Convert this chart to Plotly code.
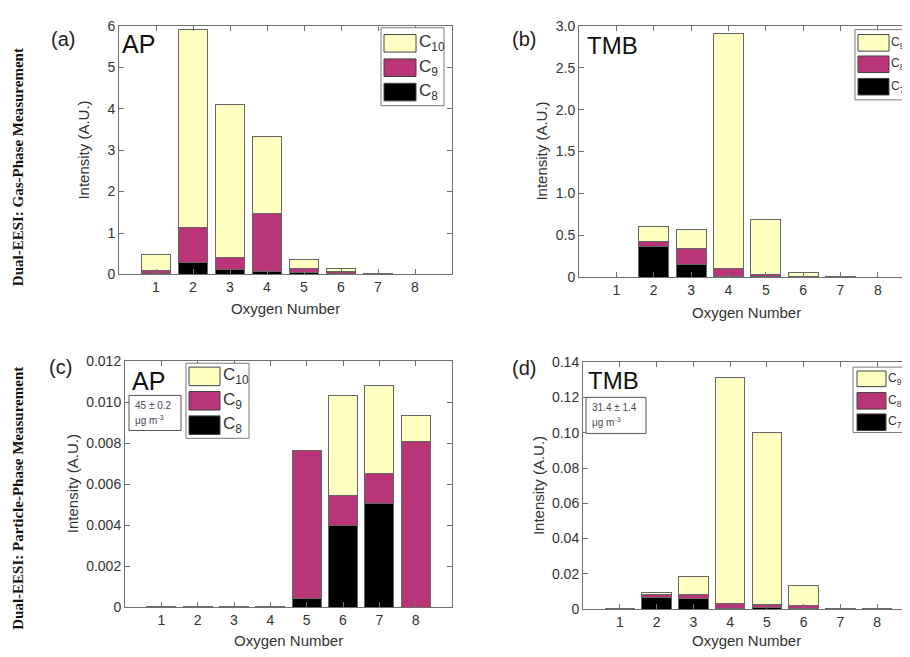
import plotly.graph_objects as go

# The page body has an 8px margin, so the figure is laid out in reference pixels shifted by OFF.
OFF = 8
W, H = 910 - OFF, 657 - OFF

oxygen = [1, 2, 3, 4, 5, 6, 7, 8]

# (a) AP gas phase
ap_gas_c8 = [0.02, 0.28, 0.13, 0.06, 0.05, 0.03, 0.02, 0.005]
ap_gas_c9 = [0.07, 0.85, 0.27, 1.40, 0.10, 0.03, 0.005, 0.003]
ap_gas_c10 = [0.38, 4.78, 3.69, 1.88, 0.21, 0.08, 0.005, 0.002]

# (b) TMB gas phase
tmb_gas_c7 = [0.002, 0.37, 0.155, 0.005, 0.015, 0.005, 0.003, 0.002]
tmb_gas_c8 = [0.001, 0.06, 0.195, 0.105, 0.025, 0.005, 0.001, 0.001]
tmb_gas_c9 = [0.001, 0.18, 0.22, 2.80, 0.65, 0.05, 0.001, 0.0]

# (c) AP particle phase
ap_part_c8 = [0.00001, 0.00001, 0.00001, 0.00001, 0.00043, 0.0040, 0.00507, 0.0]
ap_part_c9 = [0.00001, 0.00001, 0.00001, 0.00001, 0.0072, 0.00145, 0.00143, 0.00807]
ap_part_c10 = [0.0, 0.0, 0.0, 0.0, 0.0, 0.00489, 0.00431, 0.00128]

# (d) TMB particle phase
tmb_part_c7 = [0.0001, 0.0065, 0.0061, 0.0005, 0.0008, 0.0004, 0.0002, 0.0001]
tmb_part_c8 = [0.0001, 0.0018, 0.0024, 0.0028, 0.0020, 0.0014, 0.0001, 0.0001]
tmb_part_c9 = [0.0, 0.0009, 0.0099, 0.1283, 0.0972, 0.0113, 0.0001, 0.0]

yt_a = [0, 1, 2, 3, 4, 5, 6]
yt_a_txt = ["0", "1", "2", "3", "4", "5", "6"]
yt_b = [0, 0.5, 1.0, 1.5, 2.0, 2.5, 3.0]
yt_b_txt = ["0", "0.5", "1.0", "1.5", "2.0", "2.5", "3.0"]
yt_c = [0, 0.002, 0.004, 0.006, 0.008, 0.010, 0.012]
yt_c_txt = ["0", "0.002", "0.004", "0.006", "0.008", "0.010", "0.012"]
yt_d = [0, 0.02, 0.04, 0.06, 0.08, 0.10, 0.12, 0.14]
yt_d_txt = ["0", "0.02", "0.04", "0.06", "0.08", "0.10", "0.12", "0.14"]

YELLOW = "#FFFFC2"
MAGENTA = "#BA3478"
BLACK = "#000000"
EDGE = "#666666"
AXC = "#707070"
TXT = "#333333"
FONT = "Liberation Sans, Arial, sans-serif"

def px(x):
    return (x - OFF) / W

def py(y):
    return 1 - (y - OFF) / H

fig = go.Figure()

panels = [
    dict(n="", series=[(ap_gas_c8, BLACK, "C8"), (ap_gas_c9, MAGENTA, "C9"), (ap_gas_c10, YELLOW, "C10")],
         xd=(119, 452), yd=(273, 18), xr=[0, 9], yr=[0, 6], yt=yt_a, ytt=yt_a_txt, full=True),
    dict(n="2", series=[(tmb_gas_c7, BLACK, "C7"), (tmb_gas_c8, MAGENTA, "C8"), (tmb_gas_c9, YELLOW, "C9")],
         xd=(579, 910), yd=(276, 18), xr=[0, 8.86], yr=[0, 3], yt=yt_b, ytt=yt_b_txt, full=False),
    dict(n="3", series=[(ap_part_c8, BLACK, "C8"), (ap_part_c9, MAGENTA, "C9"), (ap_part_c10, YELLOW, "C10")],
         xd=(125, 452), yd=(614, 362), xr=[0, 9], yr=[0, 0.012], yt=yt_c, ytt=yt_c_txt, full=True),
    dict(n="4", series=[(tmb_part_c7, BLACK, "C7"), (tmb_part_c8, MAGENTA, "C8"), (tmb_part_c9, YELLOW, "C9")],
         xd=(583, 910), yd=(616, 363), xr=[0, 8.89], yr=[0, 0.14], yt=yt_d, ytt=yt_d_txt, full=False),
]

layout = dict(
    width=W, height=H, margin=dict(l=0, r=0, t=0, b=0),
    paper_bgcolor="white", plot_bgcolor="white",
    barmode="stack", showlegend=False,
    font=dict(family=FONT, size=14, color=TXT),
)

for p in panels:
    n = p["n"]
    for vals, col, name in p["series"]:
        fig.add_trace(go.Bar(
            x=oxygen, y=vals, name=name, width=0.8,
            marker=dict(color=col, line=dict(color=EDGE, width=1)),
            xaxis="x" + n, yaxis="y" + n,
        ))
    layout["xaxis" + n] = dict(
        domain=[px(p["xd"][0]), min(1.0, px(p["xd"][1]))], range=p["xr"], anchor="y" + n,
        tickvals=oxygen, ticks="inside", ticklen=5, tickcolor=AXC,
        showline=True, linecolor=AXC, linewidth=1, mirror="allticks",
        showgrid=False, zeroline=False, tickfont=dict(size=14, color=TXT),
    )
    layout["yaxis" + n] = dict(
        domain=[py(p["yd"][0]), py(p["yd"][1])], range=p["yr"], anchor="x" + n,
        tickvals=p["yt"], ticktext=p["ytt"], ticks="inside", ticklen=5, tickcolor=AXC,
        showline=True, linecolor=AXC, linewidth=1,
        mirror="allticks" if p["full"] else False,
        showgrid=False, zeroline=False, tickfont=dict(size=14, color=TXT),
    )

fig.update_layout(**layout)

ann = []
shapes = []

def text(x, y, t, size, angle=0, color=TXT, family=FONT, xanchor="center", yanchor="middle", align="center"):
    ann.append(dict(x=px(x), y=py(y), xref="paper", yref="paper", text=t, showarrow=False,
                    font=dict(size=size, color=color, family=family), textangle=angle,
                    xanchor=xanchor, yanchor=yanchor, align=align, borderpad=0))

# panel letters
text(63, 32, "(a)", 20, color="#222")
text(524, 32, "(b)", 20, color="#222")
text(60, 368, "(c)", 20, color="#222")
text(524, 369, "(d)", 20, color="#222")

# compound labels
text(138, 37, "AP", 25, color="#111")
text(612, 38, "TMB", 24, color="#111")
text(148, 382, "AP", 25, color="#111")
text(613, 382, "TMB", 24, color="#111")

# axis titles
for xc, yc in [(84, 146), (542, 147), (72, 488), (538, 490)]:
    text(xc, yc, "Intensity (A.U.)", 15, angle=-90)
for xc, yc in [(285, 308), (746, 312), (288, 648), (746, 648)]:
    text(xc, yc, "Oxygen Number", 15)

# row labels
text(18, 163, "<b>Dual-EESI: Gas-Phase Measurement</b>", 15, angle=-90, color="#111",
     family="Liberation Serif, Times New Roman, serif")
text(18, 503, "<b>Dual-EESI: Particle-Phase Measurement</b>", 15, angle=-90, color="#111",
     family="Liberation Serif, Times New Roman, serif")

# legends
def legend(box, sw_x, rows, labels, fsize, gap=2):
    x0, y0, x1, y1 = box
    shapes.append(dict(type="rect", xref="paper", yref="paper", x0=px(x0), x1=px(x1), y0=py(y1), y1=py(y0),
                       line=dict(color="#7a7a7a", width=1), fillcolor="white", layer="above"))
    for (ya, yb), col, lab in zip(rows, [YELLOW, MAGENTA, BLACK], labels):
        shapes.append(dict(type="rect", xref="paper", yref="paper", x0=px(sw_x[0]), x1=px(sw_x[1]),
                           y0=py(yb), y1=py(ya), line=dict(color="#444", width=1), fillcolor=col, layer="above"))
        text(sw_x[1] + gap, (ya + yb) / 2, lab, fsize, xanchor="left")

legend((381, 20, 444, 100), (384, 416), [(27, 45), (52, 70), (77, 95)],
       ["C<sub>10</sub>", "C<sub>9</sub>", "C<sub>8</sub>"], 17)
legend((855, 22, 920, 94), (858, 889), [(27, 44), (49, 66), (72, 89)],
       ["C<sub>9</sub>", "C<sub>8</sub>", "C<sub>7</sub>"], 12, gap=1)
legend((186, 364, 249, 441), (189, 220), [(368, 387), (393, 412), (418, 437)],
       ["C<sub>10</sub>", "C<sub>9</sub>", "C<sub>8</sub>"], 17)
legend((853, 368, 920, 435), (857, 886), [(372, 388), (394, 411), (416, 433)],
       ["C<sub>9</sub>", "C<sub>8</sub>", "C<sub>7</sub>"], 12, gap=1)

# concentration boxes
for (x0, y0, x1, y1), l1 in [((129, 397, 181, 433), "45 ± 0.2"), ((586, 399, 646, 436), "31.4 ± 1.4")]:
    shapes.append(dict(type="rect", xref="paper", yref="paper", x0=px(x0), x1=px(x1), y0=py(y1), y1=py(y0),
                       line=dict(color="#555", width=1), fillcolor="white", layer="above"))
    text(x0 + 5, y0 + 10, l1, 10, color="#4a4a5a", xanchor="left")
    text(x0 + 5, y0 + 25, "μg m<sup>-3</sup>", 10, color="#4a4a5a", xanchor="left")

fig.update_layout(annotations=ann, shapes=shapes)
fig.write_html("out.html")
